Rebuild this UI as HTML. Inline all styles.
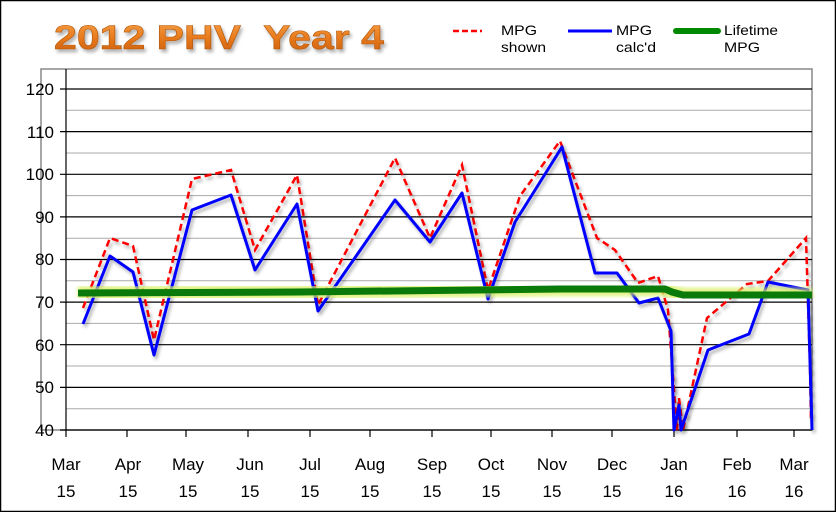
<!DOCTYPE html>
<html><head><meta charset="utf-8"><style>body{margin:0;background:#fff}svg{display:block}</style></head><body>
<svg width="836" height="512" xmlns="http://www.w3.org/2000/svg" font-family="Liberation Sans, sans-serif">
<defs>
<linearGradient id="tg" x1="0" y1="0" x2="0" y2="1"><stop offset="0" stop-color="#f6a24a"/><stop offset="0.5" stop-color="#e87a1c"/><stop offset="1" stop-color="#c65a08"/></linearGradient>
<filter id="sh" x="-5%" y="-5%" width="110%" height="110%"><feDropShadow dx="2" dy="3" stdDeviation="1.5" flood-color="#000" flood-opacity="0.3"/></filter>
<filter id="gl" x="-5%" y="-50%" width="110%" height="200%"><feGaussianBlur stdDeviation="2"/></filter>
</defs>
<rect x="0.5" y="0.5" width="835" height="511" fill="#fff" stroke="#000" stroke-width="1.5"/>
<text x="54" y="49" font-size="34" font-weight="bold" fill="url(#tg)" stroke="#b55a10" stroke-width="0.6" filter="url(#sh)" textLength="330" lengthAdjust="spacingAndGlyphs" xml:space="preserve">2012 PHV  Year 4</text>
<g font-size="14" fill="#000">
<line x1="453" y1="31" x2="482" y2="31" stroke="#f00" stroke-width="2.5" stroke-dasharray="6,3"/>
<text x="501" y="35" textLength="36" lengthAdjust="spacingAndGlyphs">MPG</text><text x="501" y="52" textLength="45" lengthAdjust="spacingAndGlyphs">shown</text>
<line x1="568" y1="31" x2="612" y2="31" stroke="#00f" stroke-width="3"/>
<text x="616" y="35" textLength="36" lengthAdjust="spacingAndGlyphs">MPG</text><text x="616" y="52" textLength="40" lengthAdjust="spacingAndGlyphs">calc'd</text>
<line x1="676" y1="31" x2="718" y2="31" stroke="#080" stroke-width="6" stroke-linecap="round"/>
<text x="724" y="35" textLength="54" lengthAdjust="spacingAndGlyphs">Lifetime</text><text x="724" y="52" textLength="36" lengthAdjust="spacingAndGlyphs">MPG</text>
</g>
<rect x="41" y="69" width="771" height="361" fill="#fff" stroke="#888" stroke-width="1.5"/>
<g stroke="#aaa" stroke-width="1">
<line x1="66" y1="110.3" x2="812" y2="110.3"/><line x1="66" y1="153" x2="812" y2="153"/><line x1="66" y1="195.6" x2="812" y2="195.6"/><line x1="66" y1="238.2" x2="812" y2="238.2"/><line x1="66" y1="280.8" x2="812" y2="280.8"/><line x1="66" y1="323.4" x2="812" y2="323.4"/><line x1="66" y1="366" x2="812" y2="366"/><line x1="66" y1="408.7" x2="812" y2="408.7"/>
</g>
<g stroke="#000" stroke-width="1.2">
<line x1="60" y1="89" x2="812" y2="89"/><line x1="60" y1="131.6" x2="812" y2="131.6"/><line x1="60" y1="174.3" x2="812" y2="174.3"/><line x1="60" y1="216.9" x2="812" y2="216.9"/><line x1="60" y1="259.5" x2="812" y2="259.5"/><line x1="60" y1="302.1" x2="812" y2="302.1"/><line x1="60" y1="344.7" x2="812" y2="344.7"/><line x1="60" y1="387.4" x2="812" y2="387.4"/>
<line x1="66" y1="69" x2="66" y2="430"/><line x1="60" y1="430" x2="812" y2="430"/>
<g><line x1="66" y1="430" x2="66" y2="437"/><line x1="127" y1="430" x2="127" y2="437"/><line x1="186" y1="430" x2="186" y2="437"/><line x1="248" y1="430" x2="248" y2="437"/><line x1="310" y1="430" x2="310" y2="437"/><line x1="370" y1="430" x2="370" y2="437"/><line x1="432" y1="430" x2="432" y2="437"/><line x1="491" y1="430" x2="491" y2="437"/><line x1="552" y1="430" x2="552" y2="437"/><line x1="612" y1="430" x2="612" y2="437"/><line x1="674" y1="430" x2="674" y2="437"/><line x1="737" y1="430" x2="737" y2="437"/><line x1="794" y1="430" x2="794" y2="437"/></g>
</g>
<g font-size="17" text-anchor="end" fill="#000">
<text x="54" y="95">120</text><text x="54" y="138">110</text><text x="54" y="180">100</text><text x="54" y="223">90</text><text x="54" y="265">80</text><text x="54" y="308">70</text><text x="54" y="351">60</text><text x="54" y="393">50</text><text x="54" y="436">40</text>
</g>
<g font-size="17" text-anchor="middle" fill="#000">
<text x="66" y="470">Mar</text><text x="66" y="497">15</text>
<text x="128" y="470">Apr</text><text x="128" y="497">15</text>
<text x="188" y="470">May</text><text x="188" y="497">15</text>
<text x="250" y="470">Jun</text><text x="250" y="497">15</text>
<text x="310" y="470">Jul</text><text x="310" y="497">15</text>
<text x="370" y="470">Aug</text><text x="370" y="497">15</text>
<text x="432" y="470">Sep</text><text x="432" y="497">15</text>
<text x="491" y="470">Oct</text><text x="491" y="497">15</text>
<text x="552" y="470">Nov</text><text x="552" y="497">15</text>
<text x="612" y="470">Dec</text><text x="612" y="497">15</text>
<text x="674" y="470">Jan</text><text x="674" y="497">16</text>
<text x="737" y="470">Feb</text><text x="737" y="497">16</text>
<text x="794" y="470">Mar</text><text x="794" y="497">16</text>
</g>
<polyline filter="url(#sh)" fill="none" stroke="#f00" stroke-width="2.5" stroke-dasharray="7,4" points="83,308 110,238 133,246 154,340 192,179 231,170 255,250 297,175 318,305 395,158 430,238 462,165 488,290 520,196 560,141 597,238 615,250 638,283 658,276 668,310 677,430 679,398 683,430 707,318 747,284 768,281 806,238 810,367 811,420"/>
<polyline filter="url(#sh)" fill="none" stroke="#00f" stroke-width="3" stroke-linejoin="round" points="83,324 110,256 133,272 154,355 192,210 231,195 255,270 297,204 318,311 395,200 430,242 462,193 488,299 515,222 562,147 595,273 617,273 639,303 658,298 671,331 674,430 679,405 681,430 708,350 749,334 768,282 808,290 812,430"/>
<polyline filter="url(#gl)" fill="none" stroke="#d8f060" stroke-width="14" opacity="0.8" points="78,293 300,292 560,289 665,289 672,292 683,295 812,295"/>
<polyline fill="none" stroke="#0a7a0a" stroke-width="7" points="78,293 300,292 560,289 665,289 672,292 683,295 812,295"/>
</svg>
</body></html>
